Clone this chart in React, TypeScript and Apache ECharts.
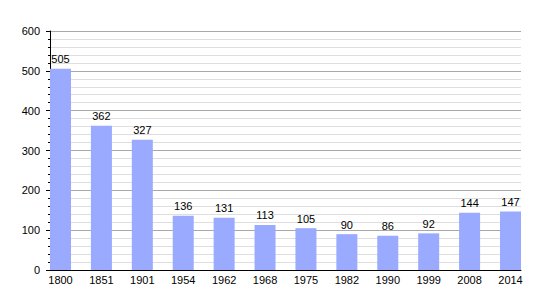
import React, { useEffect, useRef } from "react";
import * as echarts from "echarts";

const years = ["1800", "1851", "1901", "1954", "1962", "1968", "1975", "1982", "1990", "1999", "2008", "2014"];
const population = [505, 362, 327, 136, 131, 113, 105, 90, 86, 92, 144, 147];
const yTicks = [0, 100, 200, 300, 400, 500, 600];

export default function App() {
  const ref = useRef<HTMLDivElement>(null);
  useEffect(() => {
    const chart = echarts.init(ref.current!, null, { renderer: "svg" });
    const pad = 0.2567;
    chart.setOption({
      animation: false,
      grid: { left: 50, right: 29, top: 31, bottom: 30 },
      xAxis: {
        type: "value",
        min: -pad,
        max: years.length - 1 + pad,
        axisLine: { show: true, onZero: false, lineStyle: { color: "#000", width: 1 } },
        axisTick: { show: false },
        splitLine: { show: false },
        axisLabel: {
          customValues: years.map((_, i) => i),
          formatter: (v: number) => years[Math.round(v)],
          color: "#000",
          fontFamily: "Liberation Sans",
          fontSize: 11,
          margin: 4,
        },
      },
      yAxis: {
        type: "value",
        min: yTicks[0],
        max: yTicks[yTicks.length - 1],
        interval: 100,
        axisLine: { show: true, onZero: false, lineStyle: { color: "#000", width: 1 } },
        axisTick: { show: true, length: 4, lineStyle: { color: "#000" } },
        minorTick: { show: true, splitNumber: 5, length: 2, lineStyle: { color: "#000" } },
        splitLine: { show: true, lineStyle: { color: "#a8a8a8", width: 1 } },
        minorSplitLine: { show: true, lineStyle: { color: "#dedede", width: 1 } },
        axisLabel: {
          color: "#000",
          fontFamily: "Liberation Sans",
          fontSize: 11,
          margin: 10,
        },
      },
      series: [
        {
          type: "bar",
          data: population.map((v, i) => [i, v]),
          barWidth: 21,
          itemStyle: { color: "#99aaff" },
          label: {
            show: true,
            position: "top",
            distance: 4,
            color: "#000",
            fontFamily: "Liberation Sans",
            fontSize: 11,
            formatter: (p: any) => String(p.value[1]),
          },
        },
      ],
    });
    return () => chart.dispose();
  }, []);
  return <div ref={ref} style={{ width: 550, height: 300, position: "absolute", left: 0, top: 0 }} />;
}
